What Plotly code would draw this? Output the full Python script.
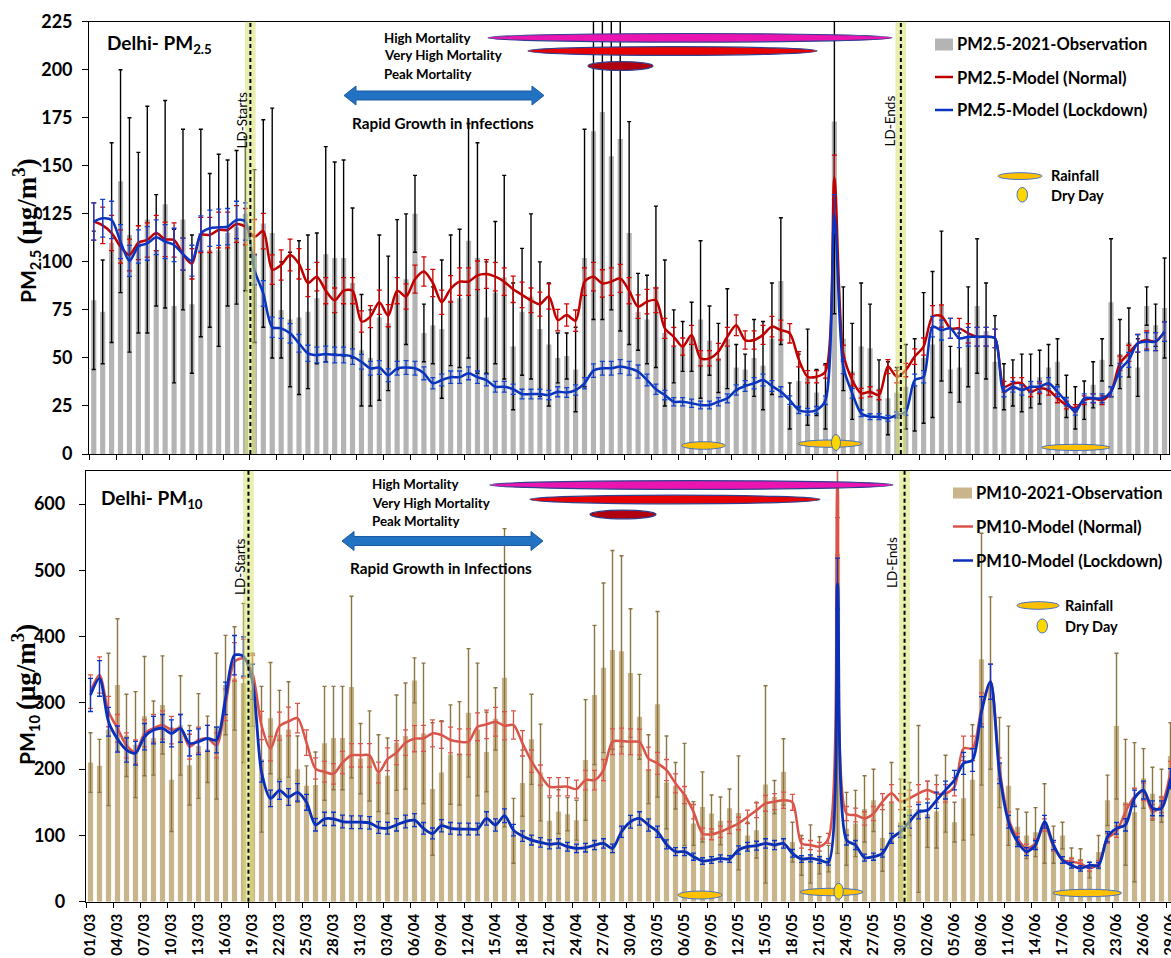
import plotly.graph_objects as go

# ---------------- DATA ----------------
days = list(range(121))  # 01/03 ... 29/06 (2021)

x_tick_days = list(range(0, 121, 3))
x_tick_labels = ["01/03", "04/03", "07/03", "10/03", "13/03", "16/03", "19/03", "22/03", "25/03", "28/03",
                 "31/03", "03/04", "06/04", "09/04", "12/04", "15/04", "18/04", "21/04", "24/04", "27/04",
                 "30/04", "03/05", "06/05", "09/05", "12/05", "15/05", "18/05", "21/05", "24/05", "27/05",
                 "30/05", "02/06", "05/06", "08/06", "11/06", "14/06", "17/06", "20/06", "23/06", "26/06",
                 "29/06"]

pm25_obs = [80, 74, 110, 142, 114, 110, 122, 106, 130, 77, 122, 78, 115, 106, 106, 115, 118, 125, 103, 120,
            115, 75, 70, 71, 74, 81, 104, 102, 102, 89, 54, 50, 71, 68, 83, 91, 125, 63, 67, 65,
            80, 81, 111, 102, 71, 84, 92, 56, 74, 82, 65, 57, 50, 51, 44, 102, 168, 178, 155, 164,
            115, 74, 70, 87, 63, 56, 56, 61, 70, 59, 50, 60, 45, 44, 50, 46, 60, 90, 25, 38,
            40, 32, 30, 173, 60, 43, 56, 55, 34, 29, 32, 35, 36, 50, 57, 77, 44, 45, 61, 77,
            64, 48, 35, 37, 37, 38, 40, 45, 48, 30, 24, 28, 36, 49, 79, 52, 58, 45, 77, 67, 76]
pm25_obs_sd = [36, 27, 52, 58, 61, 47, 59, 29, 54, 40, 47, 36, 54, 40, 50, 38, 40, 40, 45, 54,
               65, 25, 35, 40, 40, 34, 56, 50, 51, 39, 29, 25, 43, 35, 39, 34, 20, 15, 20, 36,
               34, 36, 61, 60, 29, 37, 53, 33, 33, 43, 35, 32, 13, 12, 22, 67, 98, 108, 80, 100,
               58, 20, 23, 42, 38, 19, 13, 18, 41, 18, 18, 26, 12, 8, 20, 23, 29, 33, 12, 14,
               25, 12, 17, 100, 27, 25, 33, 23, 15, 19, 13, 22, 24, 34, 38, 39, 12, 18, 26, 35,
               25, 24, 12, 12, 15, 14, 14, 12, 12, 11, 11, 10, 12, 11, 33, 18, 18, 15, 10, 11, 26]
pm25_normal = [121, 119, 115, 108, 103.6, 110, 111.4, 115, 111.7, 111.4, 104, 99, 114, 114, 116.6, 116.6, 119.7, 118.3, 113, 116,
               96, 98.4, 103.6, 99, 89, 92.3, 85, 80, 85, 85, 69, 71.5, 79, 72, 85, 82, 91, 95, 89, 79,
               86, 89.7, 89.7, 93, 93.7, 92.3, 89.7, 85.7, 82.8, 80, 78, 82, 69.7, 72.3, 69.4, 89.7, 92.3, 88.8, 89.7, 91.4,
               85, 76.7, 79.3, 80, 65.4, 61, 55.9, 62, 49.8, 49.8, 53.3, 61, 67, 59.3, 59.3, 62, 66.3, 64.5, 62.8, 49.3,
               40.2, 40.2, 42.9, 144, 52.4, 38.5, 31.6, 32.4, 30.7, 45.5, 40.2, 43.7, 50.7, 55.9, 71.5, 71.8, 65.4, 65.4, 62.8, 61,
               61, 60.2, 35, 36.8, 36.8, 32.4, 34.2, 33.3, 29, 25.5, 23.8, 28, 29, 28, 32.4, 47.2, 52.4, 57.6, 59.3, 58.5, 63.7]
pm25_lockdown = [121, 122.7, 121.8, 110.5, 100.5, 108, 109.6, 112.8, 110.5, 108.8, 104, 100.6, 114.8, 117.5, 118, 118.3, 121.8, 121, 95.8, 83.6,
                 66, 65.4, 62.8, 57.6, 52.4, 51.5, 52, 51.5, 51.5, 50.7, 48, 44.6, 45, 41, 44.6, 45, 44.6, 42, 36.8, 38.5,
                 40, 40, 42, 40, 38.5, 35, 35, 33.7, 31.2, 31.2, 31.2, 30.7, 32.4, 32, 33.3, 36.8, 43.4, 44.6, 44.6, 45.5,
                 44.6, 42.9, 38.5, 33.7, 30.7, 27.2, 27.2, 26.4, 25.5, 25.5, 27.2, 29, 33.3, 35.4, 36.8, 38.5, 35.4, 32.4, 28, 22.9,
                 22, 22.9, 28, 125, 45.5, 31.6, 21.2, 19.4, 19.4, 18.6, 20.3, 22, 38.5, 40.2, 66.3, 64.5, 65.4, 60.2, 61, 61,
                 61, 60.2, 32.4, 35, 33.3, 35, 35, 36.8, 32.4, 27.2, 22, 29, 29, 29, 32.4, 43.7, 49, 57.6, 58.5, 58.5, 63.7]

pm10_obs = [210, 205, 260, 327, 251, 237, 280, 247, 297, 184, 266, 206, 235, 230, 265, 327, 337, 330, 320, 215,
            277, 252, 260, 200, 175, 176, 239, 247, 247, 324, 216, 220, 194, 190, 240, 250, 334, 254, 170, 195,
            222, 224, 285, 260, 226, 276, 338, 107, 179, 245, 195, 122, 136, 132, 123, 214, 312, 353, 380, 378,
            345, 279, 200, 298, 180, 175, 162, 118, 143, 133, 122, 141, 134, 100, 108, 177, 158, 196, 90, 70,
            72, 70, 65, 525, 110, 118, 140, 153, 96, 150, 120, 140, 140, 132, 136, 163, 120, 156, 184, 366,
            330, 210, 175, 113, 100, 105, 118, 86, 100, 68, 65, 48, 75, 153, 265, 150, 135, 186, 163, 160, 220]
pm10_obs_sd = [45, 40, 115, 100, 62, 80, 90, 56, 74, 78, 75, 60, 79, 50, 110, 75, 78, 120, 55, 110,
               84, 67, 72, 50, 30, 50, 86, 78, 78, 137, 53, 68, 58, 57, 72, 80, 34, 106, 100, 78,
               75, 78, 97, 100, 60, 47, 225, 49, 50, 68, 73, 35, 33, 25, 30, 91, 105, 128, 150, 144,
               97, 64, 52, 140, 70, 35, 77, 33, 53, 28, 36, 29, 86, 20, 42, 149, 25, 50, 30, 30,
               44, 28, 20, 452, 55, 50, 50, 47, 50, 60, 65, 40, 126, 50, 55, 58, 30, 63, 83, 190,
               130, 68, 90, 27, 35, 37, 60, 28, 20, 13, 15, 12, 25, 38, 110, 95, 105, 45, 40, 40, 50]
pm10_normal = [317, 342, 287, 261.6, 236, 226, 254, 261.6, 266.6, 259, 261.6, 234, 244, 246.5, 236, 297, 362, 367, 344.6, 266,
               231, 265, 272, 277, 240, 201, 196, 193, 210, 221, 221, 221, 195, 215, 225, 240, 246, 246.5, 254, 251.5,
               244, 241.4, 241.4, 264, 267.6, 271.6, 265.6, 266.6, 239, 212, 191, 173.5, 173.5, 173.5, 170, 183.6, 183.6, 198.7, 241.4, 242.5,
               241.4, 241, 216, 208.8, 198.7, 178.6, 161, 135.8, 103, 101.6, 105.6, 111.7, 118, 128, 138, 148.4, 151, 153, 150, 88,
               85.5, 83, 95.6, 630, 133, 130.8, 125.7, 133, 151, 163.5, 151, 156, 163.5, 168.5, 163.5, 163.5, 173.5, 231.4, 231.4, 291.8,
               332, 201, 125.7, 95.6, 80.5, 88, 115.7, 83, 63, 60.4, 57.8, 50.3, 57.8, 95.6, 105.6, 135.8, 158.5, 166, 135.8, 146, 196]
pm10_lockdown = [312, 337, 271.6, 245.5, 229, 224, 249, 259, 261.6, 254, 261.6, 239, 241.4, 246.5, 244, 306.8, 372, 370, 332, 196,
                 156, 168, 158, 165, 150, 116, 125, 125, 121, 120, 120, 119, 112, 111, 116, 121, 123, 110.7, 103, 114.7,
                 110.7, 109.7, 109.7, 109.7, 125.7, 115.7, 129.8, 108, 99, 93, 89.5, 86.5, 88, 83, 80.5, 81.5, 85.5, 88, 80.5, 105.6,
                 120.7, 125.7, 115.7, 105.6, 86.5, 75.5, 75.5, 68, 61.4, 63, 65.4, 64.4, 78, 83, 84.5, 88, 85.5, 88, 73, 64.4,
                 65.4, 63, 60, 480, 93, 85.5, 66.4, 68, 73, 95.6, 105.6, 120.7, 135.8, 138, 153, 168.5, 183.6, 208.8, 213.8, 286.7,
                 332, 193.7, 120.7, 90.5, 75.5, 85.5, 120.7, 85.5, 63, 55, 50.3, 55, 55, 98, 110.7, 116, 156, 168.5, 141, 141, 186]

ld_start_day = 17.55
ld_end_day = 90.45

# ---------------- LAYOUT HELPERS ----------------
W, H = 1171, 958
FONT = "Lato, 'Open Sans', sans-serif"


def px(x):
    return x / W


def py(y):
    return 1 - y / H


def ann(x, y, text, size, xanchor="left", yanchor="middle", angle=0, color="black", bold=True, family=FONT):
    return dict(x=px(x), y=py(y), xref="paper", yref="paper", text=text, showarrow=False,
                xanchor=xanchor, yanchor=yanchor, textangle=angle,
                font=dict(size=size, family=family, color=color, weight="bold" if bold else "normal"))


def ellipse(x0, x1, y0, y1, fill, line="#2f4f8f", lw=1.2):
    return dict(type="circle", xref="paper", yref="paper", x0=px(x0), x1=px(x1), y0=py(y1), y1=py(y0),
                fillcolor=fill, line=dict(color=line, width=lw), layer="above")


def rect(x0, x1, y0, y1, fill):
    return dict(type="rect", xref="paper", yref="paper", x0=px(x0), x1=px(x1), y0=py(y1), y1=py(y0),
                fillcolor=fill, line=dict(width=0), layer="above")


def hline(x0, x1, y, color, w=2.5):
    return dict(type="line", xref="paper", yref="paper", x0=px(x0), x1=px(x1), y0=py(y), y1=py(y),
                line=dict(color=color, width=w), layer="above")


def arrow(xl, xr, yc, shaft=4.5, head=9.5, hl=12):
    pts = [(xl, yc), (xl + hl, yc - head), (xl + hl, yc - shaft), (xr - hl, yc - shaft), (xr - hl, yc - head),
           (xr, yc), (xr - hl, yc + head), (xr - hl, yc + shaft), (xl + hl, yc + shaft), (xl + hl, yc + head)]
    path = "M " + " L ".join(f"{px(a):.5f},{py(b):.5f}" for a, b in pts) + " Z"
    return dict(type="path", xref="paper", yref="paper", path=path, fillcolor="#2272c3",
                line=dict(color="#1b5aa0", width=1), layer="above")


# ---------------- FIGURE ----------------
fig = go.Figure()

# top panel
fig.add_trace(go.Bar(x=days, y=pm25_obs, width=0.58, marker=dict(color="#b4b4b4", line=dict(width=0)),
                     error_y=dict(type="data", array=pm25_obs_sd, color="black", thickness=1.4, width=2),
                     name="PM2.5-2021-Observation", xaxis="x", yaxis="y"))
fig.add_trace(go.Scatter(x=days, y=pm25_normal, mode="lines", line=dict(color="#c00000", width=2.5, shape="spline", smoothing=0.8),
                         error_y=dict(type="percent", value=8, color="#d00000", thickness=1.3, width=2.5),
                         name="PM2.5-Model (Normal)", xaxis="x", yaxis="y"))
fig.add_trace(go.Scatter(x=days, y=pm25_lockdown, mode="lines", line=dict(color="#0a35c0", width=2.5, shape="spline", smoothing=0.8),
                         error_y=dict(type="percent", value=8, color="#1040d0", thickness=1.3, width=2.5),
                         name="PM2.5-Model (Lockdown)", xaxis="x", yaxis="y"))

# bottom panel
fig.add_trace(go.Bar(x=days, y=pm10_obs, width=0.58, marker=dict(color="#c9b58c", line=dict(width=0)),
                     error_y=dict(type="data", array=pm10_obs_sd, color="#8a7440", thickness=1.4, width=2),
                     name="PM10-2021-Observation", xaxis="x2", yaxis="y2"))
fig.add_trace(go.Scatter(x=days, y=pm10_normal, mode="lines", line=dict(color="#d9554a", width=2.5, shape="spline", smoothing=0.8),
                         error_y=dict(type="percent", value=8, color="#d9554a", thickness=1.3, width=2.5),
                         name="PM10-Model (Normal)", xaxis="x2", yaxis="y2"))
fig.add_trace(go.Scatter(x=days, y=pm10_lockdown, mode="lines", line=dict(color="#0a2fb8", width=2.8, shape="spline", smoothing=0.8),
                         error_y=dict(type="percent", value=8, color="#0a35c8", thickness=1.3, width=2.5),
                         name="PM10-Model (Lockdown)", xaxis="x2", yaxis="y2"))

boundaries = [k - 0.5 for k in range(0, 122, 3)]
axis_common = dict(showline=True, linecolor="black", linewidth=1.3, mirror=True, showgrid=False,
                   zeroline=False, automargin=False)

# ---- panel geometry (pixels)
top_left, top_right = 89.3, 1169.0
top_top, top_bottom = 21.7, 454.0
bot_left = 86.0
bot_top, bot_bottom = 471.0, 901.7
bot_right_day = (W - bot_left) / 9.0 - 0.5

fig.update_layout(
    width=W, height=H, autosize=False,
    margin=dict(l=0, r=0, t=0, b=0, pad=0, autoexpand=False),
    paper_bgcolor="white", plot_bgcolor="white",
    showlegend=False, barmode="overlay",
    xaxis=dict(domain=[px(top_left), px(top_right)], range=[-0.5, 120.5], anchor="y",
               showticklabels=False, ticks="",
               minor=dict(tickmode="array", tickvals=boundaries, ticks="outside", ticklen=5, tickcolor="black", tickwidth=1),
               **axis_common),
    yaxis=dict(domain=[py(top_bottom), py(top_top)], range=[0, 225], anchor="x", tick0=0, dtick=25,
               ticks="outside", ticklen=6, tickcolor="black", ticklabelstandoff=6,
               tickfont=dict(family=FONT, size=18, color="black", weight="bold"), **axis_common),
    xaxis2=dict(domain=[px(bot_left), 1.0], range=[-0.5, bot_right_day], anchor="y2",
                tickmode="array", tickvals=x_tick_days, ticktext=x_tick_labels, tickangle=-90, ticks="",
                ticklabelstandoff=5, ticklabeloverflow="allow",
                tickfont=dict(family=FONT, size=15, color="black", weight="bold"),
                minor=dict(tickmode="array", tickvals=boundaries, ticks="outside", ticklen=5, tickcolor="black", tickwidth=1),
                **axis_common),
    yaxis2=dict(domain=[py(bot_bottom), py(bot_top)], range=[0, 650], anchor="x2",
                tickmode="array", tickvals=[0, 100, 200, 300, 400, 500, 600],
                ticks="outside", ticklen=6, tickcolor="black", ticklabelstandoff=10,
                tickfont=dict(family=FONT, size=18, color="black", weight="bold"), **axis_common),
)

shapes = []
annotations = []

# Lockdown bands and dashed lines
for xa, ya in (("x", "y domain"), ("x2", "y2 domain")):
    for d in (ld_start_day, ld_end_day):
        shapes.append(dict(type="rect", xref=xa, yref=ya, x0=d - 0.6, x1=d + 0.6, y0=0, y1=1,
                           fillcolor="rgba(215,225,110,0.55)", line=dict(width=0), layer="above"))
        shapes.append(dict(type="line", xref=xa, yref=ya, x0=d, x1=d, y0=0, y1=1,
                           line=dict(color="black", width=2, dash="4px,3px"), layer="above"))

# Mortality ellipses (top / bottom)
for (ym, yv, yp), xs in (((37.8, 51.0, 66.0), (488, 892, 528, 817, 588, 653)),
                          ((485.0, 499.5, 514.5), (490, 893, 530, 820, 590, 656))):
    shapes.append(ellipse(xs[0], xs[1], ym - 4.3, ym + 4.3, "#ea14b0", line="#2e3f8f"))
    shapes.append(ellipse(xs[2], xs[3], yv - 4.3, yv + 4.3, "#e80000", line="#2e3f8f"))
    shapes.append(ellipse(xs[4], xs[5], yp - 4.3, yp + 4.3, "#b0000f", line="#2e3f8f"))

# Rapid growth arrows
shapes.append(arrow(344, 544, 95.5))
shapes.append(arrow(342, 543, 541.0))

# Rainfall / dry day markers on the panels
RAIN = "#ffc000"
DRY = "#ffd700"
for x0, x1, y0, y1 in ((681.7, 725, 441.7, 449.3), (798, 862, 440, 447.3), (1041.7, 1110, 444.3, 450.5),
                       (678, 722, 891, 899), (800, 863, 888.3, 895.7), (1052.7, 1121.7, 889.3, 896.7)):
    shapes.append(ellipse(x0, x1, y0, y1, RAIN, line="#4472c4", lw=1))
for x0, x1, y0, y1 in ((831.5, 840.5, 434.5, 450.5), (834, 843.3, 883.3, 899.3)):
    shapes.append(ellipse(x0, x1, y0, y1, DRY, line="#4472c4", lw=1))

# Legends (top)
shapes.append(rect(935, 953, 38.5, 50.5, "#b4b4b4"))
shapes.append(hline(935, 953, 77, "#c00000"))
shapes.append(hline(935, 953, 110, "#0a35c0"))
annotations += [ann(955, 44.3, "PM2.5-2021-Observation", 16.5),
                ann(955, 77.5, "PM2.5-Model (Normal)", 16.5),
                ann(955, 110.5, "PM2.5-Model (Lockdown)", 16.5)]
shapes.append(ellipse(998, 1042, 172.7, 179.5, RAIN, line="#4472c4", lw=1))
shapes.append(ellipse(1017, 1027.5, 187.5, 202, DRY, line="#4472c4", lw=1))
annotations += [ann(1049, 175.5, "Rainfall", 14.5), ann(1049, 195.5, "Dry Day", 14.5)]

# Legends (bottom)
shapes.append(rect(953, 972, 487.5, 498.5, "#c9b58c"))
shapes.append(hline(953, 973, 526.5, "#d9554a"))
shapes.append(hline(953, 973, 560.5, "#0a2fb8"))
annotations += [ann(974, 493, "PM10-2021-Observation", 16.5),
                ann(974, 527, "PM10-Model (Normal)", 16.5),
                ann(974, 561, "PM10-Model (Lockdown)", 16.5)]
shapes.append(ellipse(1017, 1059, 601.7, 609.3, RAIN, line="#4472c4", lw=1))
shapes.append(ellipse(1037, 1047.5, 619, 633, DRY, line="#4472c4", lw=1))
annotations += [ann(1063, 605, "Rainfall", 14.5), ann(1063, 626.5, "Dry Day", 14.5)]

# Panel titles
annotations += [ann(105, 44, "Delhi- PM<sub>2.5</sub>", 19),
                ann(99, 499, "Delhi- PM<sub>10</sub>", 19)]

# Y-axis titles
SER = "<span style='font-family:Liberation Serif;font-size:27px'>(μg/m<sup>3</sup>)</span>"
annotations += [ann(26, 231, "PM<sub>2.5</sub> " + SER, 21, xanchor="center", angle=-90),
                ann(25, 695, "PM<sub>10</sub> " + SER, 21, xanchor="center", angle=-90)]

# Mortality labels
for base, x0 in ((37.5, 382), (484.5, 370)):
    annotations += [ann(x0, base, "High Mortality", 13.3),
                    ann(x0, base + 18, "Very High Mortality", 13.3),
                    ann(x0, base + 36, "Peak Mortality", 13.3)]

# Rapid growth labels
annotations += [ann(443, 123.5, "Rapid Growth in Infections", 15.3, xanchor="center"),
                ann(441, 568, "Rapid Growth in Infections", 15.3, xanchor="center")]

# LD labels
annotations += [ann(241.5, 120, "LD-Starts", 13.5, xanchor="center", angle=-90, bold=False),
                ann(240, 567, "LD-Starts", 13.5, xanchor="center", angle=-90, bold=False),
                ann(889.5, 121, "LD-Ends", 13.5, xanchor="center", angle=-90, bold=False),
                ann(892, 563, "LD-Ends", 13.5, xanchor="center", angle=-90, bold=False)]

fig.update_layout(shapes=shapes, annotations=annotations)

fig.write_html("out.html", config={"displayModeBar": False},
               post_script="document.body.style.margin='0px';")
